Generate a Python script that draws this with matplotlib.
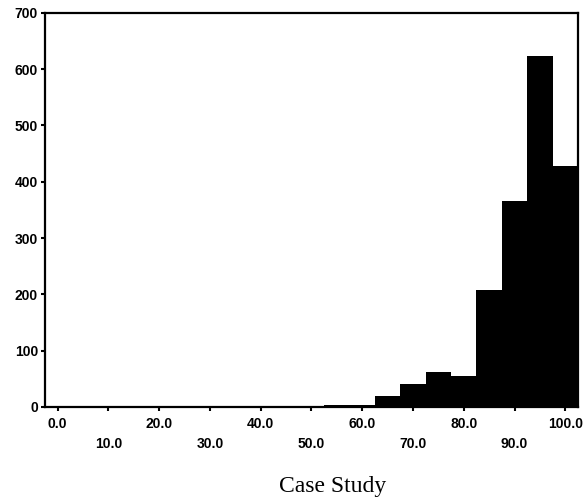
import matplotlib
matplotlib.use("Agg")
import matplotlib.pyplot as plt
from matplotlib.ticker import FixedLocator, FixedFormatter

# Histogram bins (midpoints) and counts
bin_mids = [0, 5, 10, 15, 20, 25, 30, 35, 40, 45, 50, 55, 60, 65, 70, 75, 80, 85, 90, 95, 100]
counts   = [0, 0, 0, 0, 0, 0, 0, 0, 0, 2, 2, 3, 3, 19, 40, 62, 54, 208, 366, 623, 428]

major_x = [0, 20, 40, 60, 80, 100]
minor_x = [10, 30, 50, 70, 90]
y_ticks = [0, 100, 200, 300, 400, 500, 600, 700]
x_label = "Case Study"

fig = plt.figure(figsize=(5.88, 4.98), dpi=100)
ax = fig.add_axes([0.0765, 0.183, 0.9065, 0.791])

ax.bar(bin_mids, counts, width=5, color="black", linewidth=0, align="center")

ax.set_xlim(-2.5, 102.5)
ax.set_ylim(0, 700)

for s in ax.spines.values():
    s.set_linewidth(1.6)
    s.set_color("black")

ax.xaxis.set_major_locator(FixedLocator(major_x))
ax.xaxis.set_major_formatter(FixedFormatter([f"{v:.1f}" for v in major_x]))
ax.xaxis.set_minor_locator(FixedLocator(minor_x))
ax.xaxis.set_minor_formatter(FixedFormatter([f"{v:.1f}" for v in minor_x]))
ax.set_yticks(y_ticks)
ax.set_yticklabels([str(v) for v in y_ticks])

ax.tick_params(axis="x", which="major", length=3, width=1.5, pad=4, direction="out")
ax.tick_params(axis="x", which="minor", length=3, width=1.5, pad=18.5, direction="out")
ax.tick_params(axis="y", which="major", length=3, width=1.5, pad=2, direction="out")
for lab in ax.get_xticklabels(which="both") + ax.get_yticklabels():
    lab.set_fontfamily("Liberation Sans")
    lab.set_fontweight("bold")
    lab.set_fontsize(10)

fig.text(0.566, 0.012, x_label, ha="center", va="baseline",
         family="Liberation Serif", fontsize=17)

fig.savefig("out.png", dpi=100, facecolor="white")
